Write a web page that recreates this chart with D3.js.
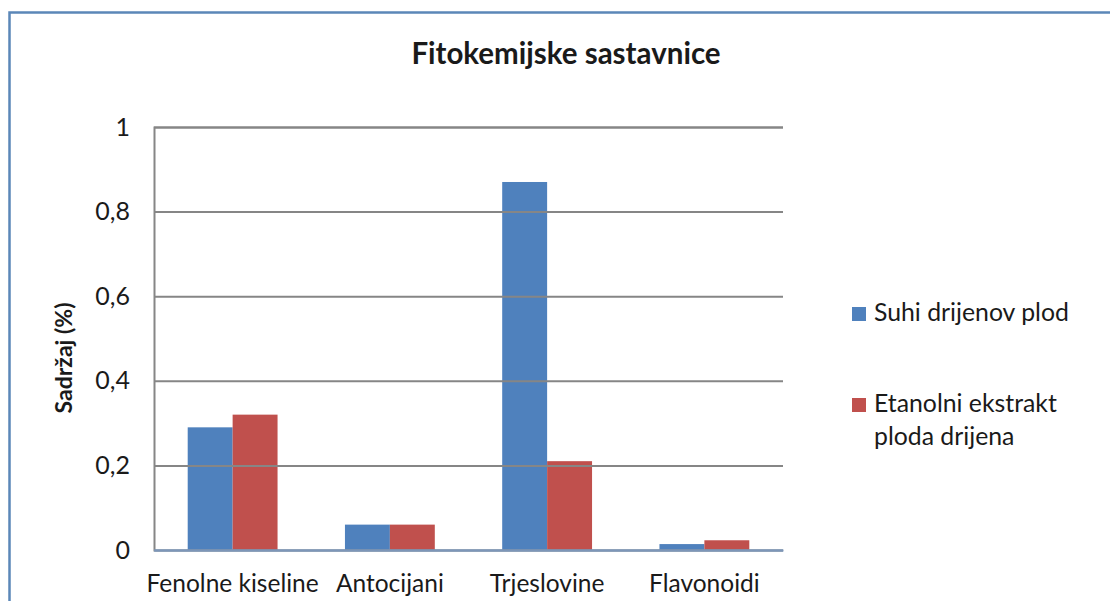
<!DOCTYPE html>
<html><head><meta charset="utf-8">
<script src="https://cdn.jsdelivr.net/npm/d3@7"></script>
<style>body{margin:0;background:#fff}svg{display:block}text{font-family:Lato,"Open Sans",sans-serif;fill:#1a1a1a}</style>
</head><body><svg id="c" width="1110" height="601"></svg>
<script>
const categories = ["Fenolne kiseline", "Antocijani", "Trjeslovine", "Flavonoidi"];
const seriesNames = ["Suhi drijenov plod", "Etanolni ekstrakt ploda drijena"];
const suhi = [0.29, 0.06, 0.87, 0.014];
const etanolni = [0.32, 0.06, 0.21, 0.023];
const yTicks = [0, 0.2, 0.4, 0.6, 0.8, 1];
const colors = ["#4f81bd", "#c0504d"];
const title = "Fitokemijske sastavnice";
const yTitle = "Sadržaj (%)";

const svg = d3.select("#c");
// outer frame
svg.append("rect").attr("x",9.5).attr("y",12.5).attr("width",1200).attr("height",700)
  .attr("fill","none").attr("stroke","#5b87b8").attr("stroke-width",2.5);

const L=154, R=783, T=127, B=550;
const x = d3.scaleBand().domain(categories).range([L,R]).paddingInner(0.4286).paddingOuter(0.2143);
const xs = d3.scaleBand().domain([0,1]).range([0,x.bandwidth()]);
const y = d3.scaleLinear().domain([0,1]).range([B,T]);
const fmt = d => d===0||d===1 ? String(d) : d3.format(".1f")(d).replace(".",",");

const series = [suhi, etanolni];
const g = svg.append("g");
series.forEach((vals,si)=>{
  g.selectAll(null).data(categories).enter().append("rect")
    .attr("x",(c)=>x(c)+xs(si)).attr("width",xs.bandwidth())
    .attr("y",(c,i)=>y(vals[i])).attr("height",(c,i)=>B-y(vals[i]))
    .attr("fill",colors[si]);
});

// gridlines
const ya = d3.axisLeft(y).tickValues(yTicks).tickSize(-(R-L)).tickFormat(fmt).tickPadding(24);
const yg = svg.append("g").attr("transform",`translate(${L},0)`).call(ya);
yg.select(".domain").attr("stroke","#868686").attr("stroke-width",2);
yg.selectAll(".tick line").attr("stroke","#868686").attr("stroke-width",2);
yg.selectAll(".tick").filter(d=>d===0).select("line").attr("stroke","#7d96b8");
yg.selectAll(".tick text").attr("font-size",25).attr("fill","#1a1a1a").style("font-family","Lato");

const xa = d3.axisBottom(x).tickSize(0).tickPadding(25);
const xg = svg.append("g").attr("transform",`translate(0,${B})`).call(xa);
xg.select(".domain").attr("stroke","#7d96b8").attr("stroke-width",2);
xg.selectAll(".tick text").attr("font-size",24.5).attr("fill","#1a1a1a").style("font-family","Lato");

svg.append("text").attr("x",566).attr("y",64).attr("text-anchor","middle")
  .attr("font-size",29.5).attr("font-weight","bold").text(title);
svg.append("text").attr("transform","translate(72,358) rotate(-90)").attr("text-anchor","middle")
  .attr("font-size",23).attr("font-weight","bold").text(yTitle);

// legend
const legY = [[321],[412,445]];
const legLines = [["Suhi drijenov plod"],["Etanolni ekstrakt","ploda drijena"]];
seriesNames.forEach((n,i)=>{
  svg.append("rect").attr("x",852).attr("y",legY[i][0]-14).attr("width",14).attr("height",14).attr("fill",colors[i]);
  legLines[i].forEach((t,j)=>{
    svg.append("text").attr("x",874).attr("y",legY[i][j]).attr("font-size",24.8).text(t);
  });
});
</script></body></html>
